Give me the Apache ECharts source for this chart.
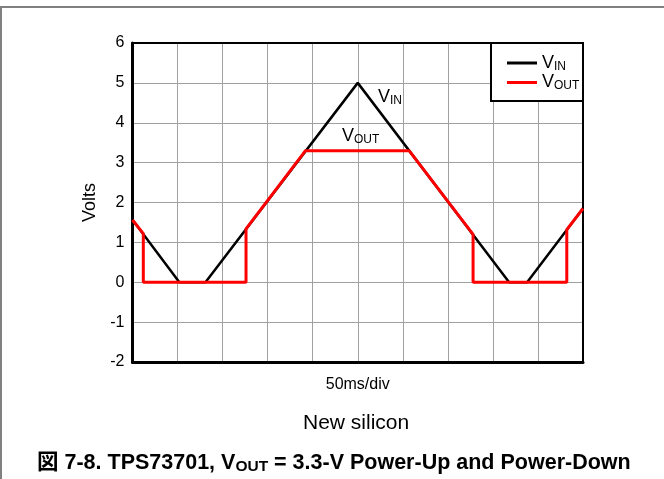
<!DOCTYPE html>
<html>
<head>
<meta charset="utf-8">
<script src="https://cdn.jsdelivr.net/npm/echarts@6/dist/echarts.min.js"></script>
<style>
  html, body { margin: 0; padding: 0; background: #fff; }
  #chart { width: 664px; height: 479px; }
</style>
</head>
<body>
<div id="chart"></div>
<script>
// Time in ms (50 ms per division, 10 divisions), voltage in volts
const vinPoints = [
  [0, 1.57], [52, 0], [81, 0], [250, 5], [418, 0], [438, 0], [500, 1.85]
];
const voutPoints = [
  [0, 1.56], [12, 1.22], [12, 0], [126, 0], [126, 1.34], [192, 3.3],
  [307, 3.3], [378, 1.2], [378, 0], [482, 0], [482, 1.32], [500, 1.85]
];
const yTicks = [-2, -1, 0, 1, 2, 3, 4, 5, 6];
const seriesNames = ['VIN', 'VOUT'];
const xAxisText = '50ms/div';
const subtitleText = 'New silicon';

const FONT = 'Liberation Sans, Arial, sans-serif';
const chart = echarts.init(document.getElementById('chart'), null, { renderer: 'canvas' });

const subScript = { fontSize: 12, fontFamily: FONT, color: '#000', padding: [7, 0, 0, 0] };

chart.setOption({
  backgroundColor: '#fff',
  animation: false,
  grid: {
    left: 132.5, right: 81, top: 43, bottom: 117,
    show: true, borderColor: '#000', borderWidth: 2, backgroundColor: 'transparent', z: 3
  },
  xAxis: {
    type: 'value', min: 0, max: 500, interval: 50,
    axisLine: { show: true, onZero: false, lineStyle: { color: '#000', width: 3 } },
    axisTick: { show: false },
    axisLabel: { show: false },
    splitLine: { show: true, lineStyle: { color: '#a0a0a0', width: 1 } },
    name: xAxisText, nameLocation: 'middle', nameGap: 15,
    nameTextStyle: { fontFamily: FONT, fontSize: 16, color: '#000' }
  },
  yAxis: {
    type: 'value', min: yTicks[0], max: yTicks[yTicks.length - 1], interval: 1,
    axisLine: { show: true, onZero: false, lineStyle: { color: '#000', width: 3 } },
    axisTick: { show: false },
    axisLabel: { fontFamily: FONT, fontSize: 16, color: '#000', margin: 8 },
    splitLine: { show: true, lineStyle: { color: '#a0a0a0', width: 1 } },
    name: 'Volts', nameLocation: 'middle', nameGap: 33,
    nameTextStyle: { fontFamily: FONT, fontSize: 18, color: '#000' }
  },
  legend: {
    orient: 'vertical', left: 502, top: 49, itemGap: 1, z: 20,
    itemWidth: 30, itemHeight: 3, icon: 'rect',
    data: seriesNames,
    formatter: n => n === 'VIN' ? 'V{s|IN}' : 'V{s|OUT}',
    textStyle: { fontFamily: FONT, fontSize: 18, color: '#000', rich: { s: subScript } }
  },
  series: [
    {
      name: seriesNames[0], type: 'line', data: vinPoints, symbol: 'none',
      lineStyle: { color: '#000', width: 2.5 }, itemStyle: { color: '#000' }, z: 4
    },
    {
      name: seriesNames[1], type: 'line', data: voutPoints, symbol: 'none',
      lineStyle: { color: '#ff0000', width: 3 }, itemStyle: { color: '#ff0000' }, z: 5
    }
  ],
  graphic: [
    // page frame
    { type: 'line', shape: { x1: 0, y1: 7, x2: 664, y2: 7 }, style: { stroke: '#808080', lineWidth: 2 } },
    { type: 'line', shape: { x1: 1, y1: 6, x2: 1, y2: 479 }, style: { stroke: '#808080', lineWidth: 2 } },
    // legend box
    { type: 'rect', shape: { x: 491, y: 43, width: 92, height: 58 },
      style: { fill: '#fff', stroke: '#000', lineWidth: 2 }, z: 6 },
    // curve annotations
    { type: 'text', left: 378, top: 88, z: 6,
      style: { text: 'V{s|IN}', fontFamily: FONT, fontSize: 18, fill: '#000', rich: { s: subScript } } },
    { type: 'text', left: 342, top: 127, z: 6,
      style: { text: 'V{s|OUT}', fontFamily: FONT, fontSize: 18, fill: '#000', rich: { s: subScript } } },
    // captions
    { type: 'text', left: 303, top: 413, z: 6,
      style: { text: subtitleText, fontFamily: FONT, fontSize: 21, fill: '#000' } },
    { type: 'text', left: 37, top: 452, z: 6,
      style: {
        text: '{b|図 7-8. TPS73701, V}{bs|OUT}{b| = 3.3-V Power-Up and Power-Down}',
        rich: {
          b: { fontFamily: FONT + ', Noto Sans CJK JP', fontSize: 21.5, fontWeight: 'bold', color: '#000' },
          bs: { fontFamily: FONT, fontSize: 15.5, fontWeight: 'bold', color: '#000', padding: [8, 0, 0, 0] }
        }
      } }
  ]
});
</script>
</body>
</html>
